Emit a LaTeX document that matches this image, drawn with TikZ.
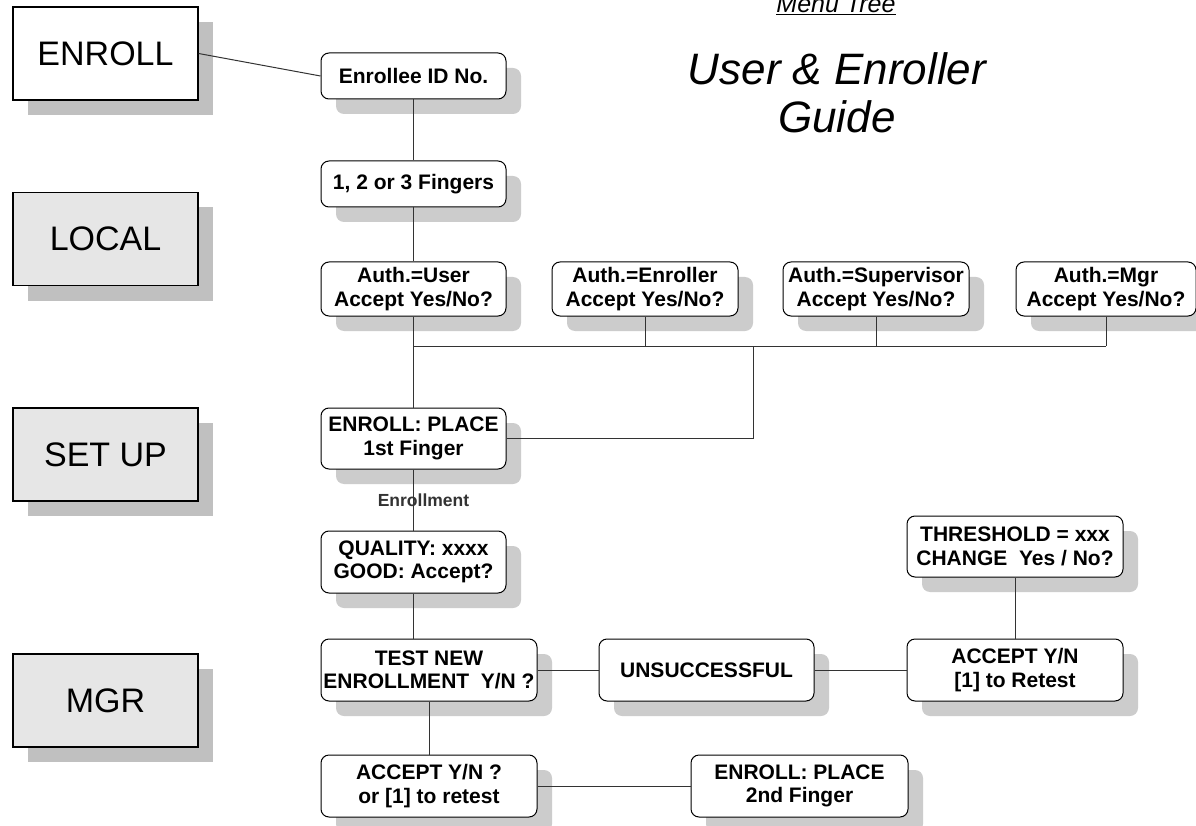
\documentclass[tikz,border=0pt]{standalone}
\usepackage{fontspec}
\setmainfont{Liberation Sans}
\usetikzlibrary{shadows}

\definecolor{levelgray}{HTML}{E6E6E6}
\definecolor{levelshade}{HTML}{C0C0C0}
\definecolor{menushade}{HTML}{CCCCCC}

\begin{document}
\begin{tikzpicture}[x=1pt,y=-1pt,
    level/.style={draw,line width=1.2pt,fill=levelgray,minimum width=185pt,minimum height=93pt,inner sep=0pt,
      font=\fontsize{34}{40}\selectfont,
      drop shadow={shadow xshift=15pt,shadow yshift=-15pt,fill=levelshade,opacity=1}},
    menu/.style={draw,line width=1pt,fill=white,rounded corners=8pt,minimum width=185pt,minimum height=62pt,
      inner sep=0pt,align=center,font=\bfseries\fontsize{21}{23.5}\selectfont,
      drop shadow={shadow xshift=15pt,shadow yshift=-15pt,fill=menushade,opacity=1}},
    wide/.style={minimum width=216pt}]

        \fill[white,use as bounding box] (0,0) rectangle (1196,826);

        % heading
        \node[font=\itshape\fontsize{25}{30}\selectfont,anchor=base] (menutree) at (836,13) {\underline{Menu Tree}};
        \node[font=\itshape\fontsize{44}{48}\selectfont,align=center,anchor=base] (guide) at (837,133) {User \& Enroller\\Guide};

        \begin{scope}[every node/.style={level}]
          \node[fill=white] (enroll) at (105.5,53.5)  {ENROLL};
          \node (local)  at (105.5,239)   {LOCAL};
          \node (setup)  at (105.5,454.5) {SET UP};
          \node (mgr)    at (105.5,700.5) {MGR};
        \end{scope}

        \begin{scope}[every node/.style={menu}]
          \node[minimum height=46pt] (eid)  at (413.5,76)  {Enrollee ID No.};
          \node[minimum height=46pt] (fing) at (413.5,184) {1, 2 or 3 Fingers};
          \node[minimum height=54pt] (auser) at (413.5,289) {Auth.=User\\Accept Yes/No?};
          \node[minimum height=54pt,minimum width=186pt] (aenr) at (645,289) {Auth.=Enroller\\Accept Yes/No?};
          \node[minimum height=54pt,minimum width=186pt] (asup) at (876,289) {Auth.=Supervisor\\Accept Yes/No?};
          \node[minimum height=54pt,minimum width=180pt] (amgr) at (1106,289) {Auth.=Mgr\\Accept Yes/No?};
          \node[minimum height=61pt] (place1) at (413.5,438.5) {ENROLL: PLACE\\1st Finger};
          \node (qual)   at (413.5,562) {QUALITY: xxxx\\GOOD: Accept?};
          \node[wide] (test)   at (429,670)    {TEST NEW\\ENROLLMENT\ \ Y/N ?};
          \node[minimum width=215pt] (unsucc) at (706.5,670) {UNSUCCESSFUL};
          \node[wide] (retest) at (1015,670)   {ACCEPT Y/N\\{[1]} to Retest};
          \node[wide,minimum height=61pt] (thresh) at (1015,546.5) {THRESHOLD = xxx\\CHANGE\ \ Yes / No?};
          \node[wide] (acc)    at (429,786)    {ACCEPT Y/N ?\\or [1] to retest};
          \node[minimum width=217pt] (place2) at (799.5,786) {ENROLL: PLACE\\2nd Finger};
        \end{scope}

        \coordinate (bus) at (0,346);
        \coordinate (jn)  at (753,346);

        \begin{scope}[every path/.style={draw,line width=1pt,black!80}]
          \path (enroll.east) -- (eid.west);
          \path (eid)  edge (fing);
          \path (fing) edge (auser);
          \path (auser) edge (place1);
          \path (auser.south |- bus) -- (amgr.south |- bus);
          \path (aenr.south) -- (aenr.south |- bus);
          \path (asup.south) -- (asup.south |- bus);
          \path (amgr.south) -- (amgr.south |- bus);
          \path (place1.east) -| (jn);
          \path (place1) edge node[xshift=10pt,font=\bfseries\fontsize{17.5}{20}\selectfont] {Enrollment} (qual);
          \path (qual.south) -- (qual.south |- test.north);
          \path (test)   edge (unsucc);
          \path (unsucc) edge (retest);
          \path (thresh) edge (retest);
          \path (test)   edge (acc);
          \path (acc)    edge (place2);
        \end{scope}

      \end{tikzpicture}
\end{document}
